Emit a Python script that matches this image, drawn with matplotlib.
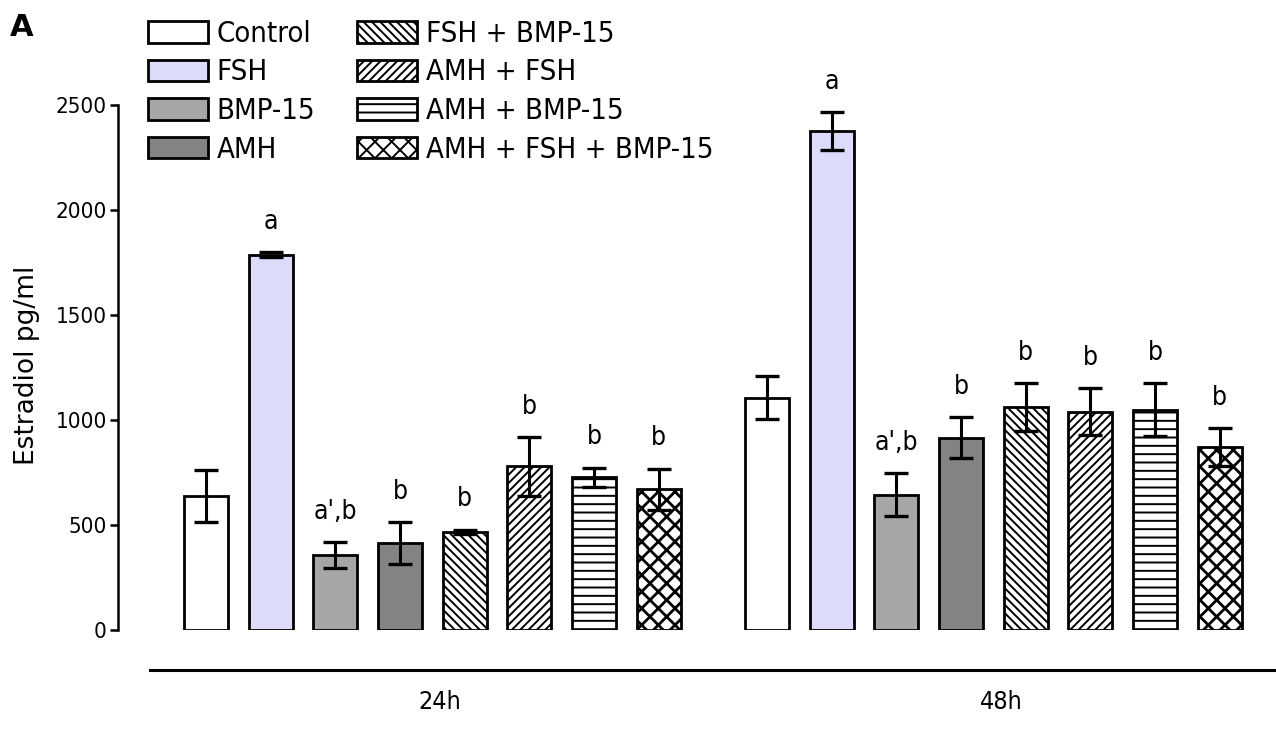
import os
import numpy as np
import matplotlib
matplotlib.use("Agg")
import matplotlib.pyplot as plt
from matplotlib import font_manager as fm

# ---------------- data ----------------
groups = ["24h", "48h"]
treatments = ["Control", "FSH", "BMP-15", "AMH", "FSH + BMP-15",
              "AMH + FSH", "AMH + BMP-15", "AMH + FSH + BMP-15"]
mean_24h = [638, 1786, 357, 414, 467, 779, 727, 671]
sem_24h = [124, 12, 62, 100, 10, 140, 46, 98]
mean_48h = [1107, 2376, 645, 916, 1061, 1039, 1048, 870]
sem_48h = [103, 90, 102, 97, 115, 112, 126, 90]
letters_24h = ["", "a", "a',b", "b", "b", "b", "b", "b"]
letters_48h = ["", "a", "a',b", "b", "b", "b", "b", "b"]
yticks = [0, 500, 1000, 1500, 2000, 2500]
ylabel = "Estradiol pg/ml"
panel = "A"

# ---------------- styles ----------------
facecolors = ["white", "#dcdcfa", "#a6a6a9", "#838383",
              "white", "white", "white", "white"]
hatches = [None, None, None, None, "\\\\\\\\", "////", "--", "xx"]

cond = any("DejaVuSansCondensed" in os.path.basename(f.fname) and "Bold" not in f.fname
           for f in fm.fontManager.ttflist)
if cond:
    TF = dict(family="DejaVu Sans", stretch="condensed")
    fs_leg, fs_tick, fs_let, fs_x = 21, 16, 19, 18
else:
    TF = dict(family="Liberation Sans Narrow")
    fs_leg, fs_tick, fs_let, fs_x = 23, 17.5, 20, 19

plt.rcParams["hatch.linewidth"] = 1.4
plt.rcParams["hatch.color"] = "black"

W, H = 1276, 729
fig = plt.figure(figsize=(W / 100, H / 100), dpi=100)
ax = fig.add_axes([118 / W, (H - 630) / H, (W - 118) / W, 546 / H])

n = len(treatments)
group_step = n + 0.67
bar_w = 0.68
means = [mean_24h, mean_48h]
sems = [sem_24h, sem_48h]
letters = [letters_24h, letters_48h]

for i in range(n):
    xs = [g * group_step + i for g in range(len(groups))]
    hs = [means[g][i] for g in range(len(groups))]
    bars = ax.bar(xs, hs, width=bar_w, color=facecolors[i], edgecolor="black",
                  linewidth=2.0, hatch=hatches[i], label=treatments[i], zorder=2)
    if hatches[i] == "xx":
        for b in bars:
            if hasattr(b, "set_hatch_linewidth"):
                b.set_hatch_linewidth(2.0)

for g in range(len(groups)):
    xs = np.arange(n) + g * group_step
    ax.errorbar(xs, means[g], yerr=sems[g], fmt="none", ecolor="black",
                elinewidth=2.2, capsize=8.5, capthick=2.4, zorder=3)
    for i in range(n):
        if letters[g][i]:
            ax.text(xs[i], means[g][i] + sems[g][i] + 145, letters[g][i],
                    ha="center", va="center", fontsize=fs_let, **TF)

xmin = -1.36
xmax = 16.54
ax.set_xlim(xmin, xmax)
ax.set_ylim(0, 2600)

for s in ["top", "right"]:
    ax.spines[s].set_visible(False)
ax.spines["left"].set_bounds(0, 2500)
ax.spines["left"].set_linewidth(1.8)
ax.spines["bottom"].set_position(("outward", 29))
ax.spines["bottom"].set_bounds(-0.866, xmax)
ax.spines["bottom"].set_linewidth(2.2)

ax.set_yticks(yticks)
ax.set_yticklabels([str(v) for v in yticks], fontsize=fs_tick, **TF)
ax.tick_params(axis="y", length=6, width=1.8, pad=2)

ax.set_xticks([g * group_step + (n - 1) / 2 + 0.12 for g in range(len(groups))])
ax.set_xticklabels(groups, fontsize=fs_x, **TF)
ax.tick_params(axis="x", length=0, pad=14)

fig.text(27 / W, 1 - 365 / H, ylabel, rotation=90, ha="center", va="center",
         fontsize=19, family="DejaVu Sans")
fig.text(22 / W, 1 - 27 / H, panel, ha="center", va="center",
         fontsize=22, fontweight="bold", family="DejaVu Sans")

leg = fig.legend(loc="upper left", bbox_to_anchor=(148 / W, 1 - 20 / H), ncol=2,
                 frameon=False, prop=fm.FontProperties(size=fs_leg, **TF),
                 handlelength=2.05, handleheight=0.75, handletextpad=0.3,
                 labelspacing=0.36, columnspacing=1.45, borderpad=0, borderaxespad=0)

fig.savefig("out.png", dpi=100)
